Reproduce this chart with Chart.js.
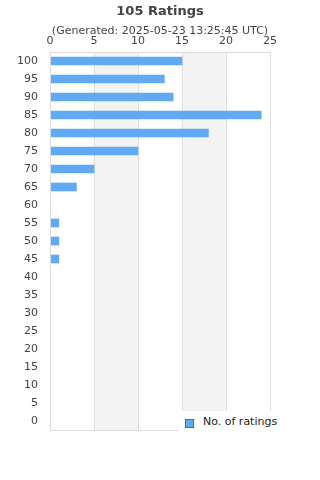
<!DOCTYPE html>
<html>
<head>
<meta charset="utf-8">
<script src="https://cdn.jsdelivr.net/npm/chart.js@4"></script>
<style>
  html, body { margin: 0; padding: 0; background: #fff; }
  #wrap { position: relative; width: 320px; height: 480px; }
  #legend {
    position: absolute; left: 178px; top: 411px; width: 142px; height: 30px;
    background: #fff; font: 11px "DejaVu Sans", sans-serif; color: #222;
  }
  #legend .box {
    position: absolute; left: 7px; top: 8px; width: 7px; height: 7px;
    background: #62a9f4; border: 1px solid #666;
  }
  #legend .txt { position: absolute; left: 25px; top: 4px; }
</style>
</head>
<body>
<div id="wrap">
  <canvas id="chart" width="320" height="480"></canvas>
  <div id="legend"><span class="box"></span><span class="txt">No. of ratings</span></div>
</div>
<script>
// Datos del gráfico
const ratingLabels = ['100', '95', '90', '85', '80', '75', '70', '65', '60', '55', '50',
                      '45', '40', '35', '30', '25', '20', '15', '10', '5', '0'];
const ratingCounts = [15, 13, 14, 24, 18, 10, 5, 3, 0, 1, 1,
                      1, 0, 0, 0, 0, 0, 0, 0, 0, 0];
const countTicks = [0, 5, 10, 15, 20, 25];
const grayBands = [[5, 10], [15, 20]];

// bandas grises y marco del área
const bandsPlugin = {
  id: 'bands',
  beforeDraw(chart) {
    const { ctx, chartArea: a, scales: { x } } = chart;
    ctx.save();
    ctx.fillStyle = '#f3f3f3';
    grayBands.forEach(([from, to]) => {
      const x1 = x.getPixelForValue(from), x2 = x.getPixelForValue(to);
      ctx.fillRect(x1, a.top, x2 - x1, a.bottom - a.top);
    });
    ctx.restore();
  },
  afterDraw(chart) {
    const { ctx, chartArea: a } = chart;
    ctx.save();
    ctx.strokeStyle = '#dddddd';
    ctx.lineWidth = 1;
    ctx.strokeRect(Math.round(a.left) + 0.5, Math.round(a.top) + 0.5,
      Math.round(a.right - a.left), Math.round(a.bottom - a.top));
    ctx.restore();
  }
};

new Chart(document.getElementById('chart').getContext('2d'), {
  type: 'bar',
  data: {
    labels: ratingLabels,
    datasets: [{
      label: 'No. of ratings',
      data: ratingCounts,
      backgroundColor: '#62a9f4',
      barThickness: 8
    }]
  },
  options: {
    indexAxis: 'y',
    responsive: false,
    animation: false,
    layout: { padding: { left: 0, right: 0, top: 0, bottom: 50 } },
    plugins: {
      legend: { display: false },
      tooltip: { enabled: false },
      title: {
        display: true,
        text: '105 Ratings',
        color: '#444',
        font: { family: 'DejaVu Sans', size: 13, weight: 'bold' },
        padding: { top: 4, bottom: 5 }
      },
      subtitle: {
        display: true,
        text: '(Generated: 2025-05-23 13:25:45 UTC)',
        color: '#444',
        font: { family: 'DejaVu Sans', size: 11 },
        padding: { top: 0, bottom: -7 }
      }
    },
    scales: {
      x: {
        position: 'top',
        min: 0,
        max: 25,
        afterBuildTicks: (s) => { s.ticks = countTicks.map(v => ({ value: v })); },
        ticks: { color: '#444', font: { family: 'DejaVu Sans', size: 11 }, padding: 4 },
        grid: { color: '#dddddd', drawTicks: false },
        border: { color: '#dddddd' }
      },
      y: {
        afterFit: (s) => { s.width = 50; },
        ticks: { color: '#444', font: { family: 'DejaVu Sans', size: 11 }, padding: 12, autoSkip: false },
        grid: { display: false, drawTicks: false },
        border: { color: '#dddddd' }
      },
      // eje vacío para dejar margen a la derecha
      yRight: {
        type: 'category',
        position: 'right',
        afterFit: (s) => { s.width = 50; },
        ticks: { display: false },
        grid: { display: false, drawTicks: false },
        border: { display: false }
      }
    }
  },
  plugins: [bandsPlugin]
});
</script>
</body>
</html>
